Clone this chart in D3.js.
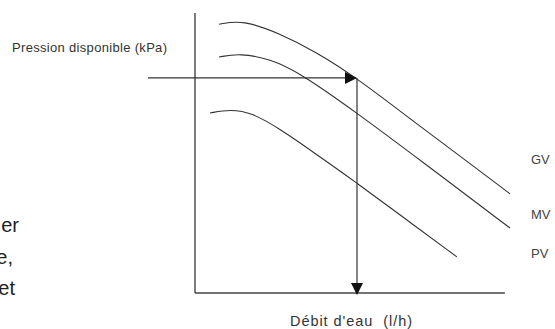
<!DOCTYPE html>
<html>
<head>
<meta charset="utf-8">
<script src="https://cdn.jsdelivr.net/npm/d3@7"></script>
<style>
  body { margin: 0; background: #fff; }
  svg { display: block; }
  text { font-family: "Liberation Sans", Arial, sans-serif; }
</style>
</head>
<body>
<div id="chart"></div>
<script>
// curves (flow in % of axis, pressure in % of axis)
var gvFlow = [8, 16, 28, 40, 54, 75, 92, 105];
var gvPressure = [96, 97.5, 92.8, 86.3, 76.8, 59.5, 46, 35.4];
var mvFlow = [8, 15, 25, 35, 54, 75, 105];
var mvPressure = [84.3, 85.6, 83.6, 78.6, 64.3, 47.5, 23.2];
var pvFlow = [5, 11.7, 19, 28.3, 39.3, 54, 68.3, 87.3];
var pvPressure = [64.3, 65.6, 64.4, 58.6, 50.4, 39.3, 27.9, 12.9];
var seriesNames = ["GV", "MV", "PV"];

// operating point used for the arrows
var opFlow = 54, opPressure = 76.8, arrowStart = -15.7;

var width = 555, height = 329;

var svg = d3.select("#chart").append("svg")
  .attr("width", width)
  .attr("height", height);

var x = d3.scaleLinear().domain([0, 120]).range([195, 555]);
var y = d3.scaleLinear().domain([0, 100]).range([293, 13]);

var line = d3.line()
  .x(function (d) { return x(d[0]); })
  .y(function (d) { return y(d[1]); })
  .curve(d3.curveBasis);

// axes
svg.append("line")
  .attr("x1", x(0)).attr("y1", y(100))
  .attr("x2", x(0)).attr("y2", y(0))
  .attr("stroke", "#444").attr("stroke-width", 1.4);
svg.append("line")
  .attr("x1", x(0)).attr("y1", y(0))
  .attr("x2", x(103.3)).attr("y2", y(0))
  .attr("stroke", "#444").attr("stroke-width", 1.4);

var series = [
  d3.zip(gvFlow, gvPressure),
  d3.zip(mvFlow, mvPressure),
  d3.zip(pvFlow, pvPressure)
];

svg.append("g")
  .selectAll("path")
  .data(series)
  .join("path")
  .attr("d", line)
  .attr("fill", "none")
  .attr("stroke", "#333")
  .attr("stroke-width", 1.1);

// labels
var labelY = [164, 219, 258];
svg.append("g")
  .selectAll("text")
  .data(seriesNames)
  .join("text")
  .attr("x", 531)
  .attr("y", function (d, i) { return labelY[i]; })
  .attr("font-size", 13)
  .attr("fill", "#444")
  .text(function (d) { return d; });

// arrows
var px = x(opFlow), py = y(opPressure);
svg.append("line")
  .attr("x1", x(arrowStart)).attr("y1", py)
  .attr("x2", px - 10).attr("y2", py)
  .attr("stroke", "#333").attr("stroke-width", 1.2);
svg.append("path")
  .attr("d", "M" + px + "," + py + "L" + (px - 12) + "," + (py - 6) + "L" + (px - 12) + "," + (py + 6) + "Z")
  .attr("fill", "#111");

var tipY = y(0) + 2;
svg.append("line")
  .attr("x1", px).attr("y1", py)
  .attr("x2", px).attr("y2", tipY - 10)
  .attr("stroke", "#333").attr("stroke-width", 1.2);
svg.append("path")
  .attr("d", "M" + px + "," + tipY + "L" + (px - 6) + "," + (tipY - 12) + "L" + (px + 6) + "," + (tipY - 12) + "Z")
  .attr("fill", "#111");

// axis titles
svg.append("text")
  .attr("x", 12).attr("y", 52)
  .attr("font-size", 13)
  .attr("fill", "#333")
  .attr("textLength", 155)
  .attr("lengthAdjust", "spacing")
  .text("Pression disponible (kPa)");

svg.append("text")
  .attr("x", 290).attr("y", 326)
  .attr("font-size", 14.5)
  .attr("fill", "#333")
  .attr("textLength", 122)
  .attr("lengthAdjust", "spacing")
  .style("white-space", "pre")
  .text("Débit d'eau  (l/h)");

// cut-off body text on the left
var sideText = ["er", "e,", "et"];
var sideRight = [19, 13, 15];
var sideY = [232, 264, 295];
svg.append("g")
  .selectAll("text")
  .data(sideText)
  .join("text")
  .attr("x", function (d, i) { return sideRight[i]; })
  .attr("y", function (d, i) { return sideY[i]; })
  .attr("text-anchor", "end")
  .attr("font-size", 20)
  .attr("fill", "#222")
  .text(function (d) { return d; });
</script>
</body>
</html>
